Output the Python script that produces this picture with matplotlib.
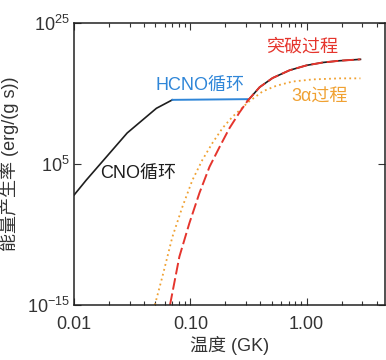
import numpy as np
import matplotlib
matplotlib.use('Agg')
import matplotlib.pyplot as plt
from matplotlib.ticker import FixedLocator, NullLocator, LogLocator, NullFormatter

plt.rcParams['font.family'] = ['Liberation Sans', 'Noto Sans CJK SC', 'DejaVu Sans']
plt.rcParams['mathtext.default'] = 'regular'

# temperature (GK) and log10 energy rate
cno_t = [0.010, 0.0127, 0.0286, 0.051, 0.070]
cno_log = [0.6, 2.7, 9.4, 12.9, 14.1]

hcno_t = [0.070, 0.15, 0.31]
hcno_log = [14.1, 14.15, 14.2]

brk_t = [0.0668, 0.0804, 0.098, 0.1197, 0.146, 0.178, 0.217, 0.264, 0.31,
         0.394, 0.509, 0.713, 1.0, 1.375, 1.92, 2.9]
brk_log = [-15.0, -8.15, -3.4, 0.9, 4.6, 7.4, 10.1, 12.3, 13.95,
           15.9, 17.2, 18.3, 19.0, 19.4, 19.65, 19.85]

alpha_t = [0.0495, 0.0574, 0.070, 0.0853, 0.104, 0.127, 0.155, 0.189, 0.230,
           0.281, 0.31, 0.418, 0.548, 0.757, 1.127, 1.92, 2.9]
alpha_log = [-15.0, -11.0, -5.35, -1.1, 2.7, 5.6, 8.0, 10.1, 11.7,
             13.0, 13.7, 15.3, 16.1, 16.7, 17.0, 17.15, 17.15]

black = '#1e1e1e'
blue = '#2f86d8'
red = '#e5352d'
orange = '#f0a132'

fig = plt.figure(figsize=(3.86, 3.6), dpi=100)
ax = fig.add_axes([0.192, 0.153, 0.805, 0.783])

# CNO and the high temperature branch (black under the red dashes)
ax.plot(cno_t, 10.0 ** np.array(cno_log), color=black, lw=1.2)
ax.plot(hcno_t, 10.0 ** np.array(hcno_log), color=blue, lw=1.4)
bt = np.array(brk_t)
bl = np.array(brk_log)
mask = bt >= 0.31
ax.plot(bt[mask], 10.0 ** bl[mask], color=black, lw=1.2)
ax.plot(alpha_t, 10.0 ** np.array(alpha_log), color=orange, lw=1.3, ls=(0, (1, 1.8)))
ax.plot(bt, 10.0 ** bl, color=red, lw=1.4, ls=(0, (6, 2)))

ax.set_xscale('log')
ax.set_yscale('log')
ax.set_xlim(0.01, 4.7)
ax.set_ylim(1e-15, 1e25)

ax.xaxis.set_major_locator(FixedLocator([0.01, 0.1, 1.0]))
ax.set_xticklabels(['0.01', '0.10', '1.00'])
ax.xaxis.set_minor_locator(LogLocator(base=10, subs=np.arange(2, 10)))
ax.xaxis.set_minor_formatter(NullFormatter())
ax.yaxis.set_major_locator(FixedLocator([1e-15, 1e5, 1e25]))
ax.set_yticklabels(['$10^{-15}$', '$10^{5}$', '$10^{25}$'])
ax.yaxis.set_minor_locator(NullLocator())

ax.tick_params(which='both', direction='in', top=True, right=True,
               labelsize=13, colors='#333333', width=0.8)
ax.tick_params(which='major', length=5)
ax.tick_params(axis='x', which='major', pad=8)
ax.tick_params(axis='y', which='major', pad=3)
ax.tick_params(which='minor', length=3)
for s in ax.spines.values():
    s.set_linewidth(1.1)
    s.set_color('#222222')

ax.set_xlabel('温度 (GK)', fontsize=13, color='#333333', labelpad=2)
ax.set_ylabel('能量产生率 (erg/(g s))', fontsize=13, color='#333333', labelpad=6)

ax.text(0.12, 10.0 ** 16.2, 'HCNO循环', color=blue, fontsize=13, ha='center', va='center')
ax.text(0.0356, 10.0 ** 3.7, 'CNO循环', color=black, fontsize=13, ha='center', va='center')
ax.text(0.906, 10.0 ** 21.6, '突破过程', color=red, fontsize=13, ha='center', va='center')
ax.text(1.29, 10.0 ** 14.5, '3α过程', color=orange, fontsize=13, ha='center', va='center')

fig.savefig('out.png', dpi=100)
